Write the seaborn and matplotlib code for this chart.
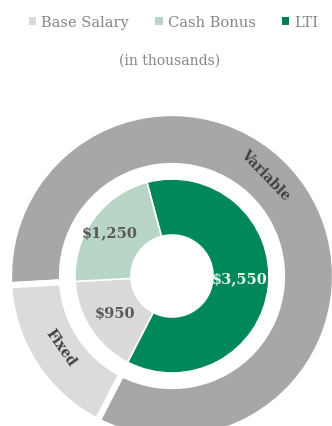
import matplotlib
matplotlib.use("Agg")
import matplotlib.pyplot as plt
import seaborn as sns
from matplotlib.patches import Patch

sns.set_theme(style="white")
plt.rcParams['font.family'] = ['DejaVu Serif']

# Data
inner_labels = ["LTI", "Base Salary", "Cash Bonus"]
inner_values = [3550, 950, 1250]
inner_text = ["$3,550", "$950", "$1,250"]
outer_labels = ["Variable", "Fixed"]
outer_values = [4800, 950]
legend_order = ["Base Salary", "Cash Bonus", "LTI"]

inner_colors = {"LTI": "#00875a", "Base Salary": "#dadada", "Cash Bonus": "#b7d6c6"}
outer_colors = {"Variable": "#a7a7a7", "Fixed": "#dbdbdb"}

W, H = 332, 427
fig = plt.figure(figsize=(W / 100, H / 100), dpi=100)
ax = fig.add_axes([0, 0, 1, 1])
cx, cy = 172, 150  # centre in pixel coords (from bottom)

R_out, w_out = 163, 53
R_in, w_in = 97, 56

start_in = 105
total = sum(inner_values)
start_out = start_in + 360 * inner_values[2] / total

ax.pie(outer_values, radius=R_out, center=(cx, cy), startangle=start_out,
       counterclock=False,
       colors=[outer_colors[l] for l in outer_labels],
       explode=[0, 0.03],
       wedgeprops=dict(width=w_out, edgecolor="white", linewidth=4.5))

ax.pie(inner_values, radius=R_in, center=(cx, cy), startangle=start_in,
       counterclock=False,
       colors=[inner_colors[l] for l in inner_labels],
       wedgeprops=dict(width=w_in, edgecolor="white", linewidth=1.2))

ax.set_xlim(0, W)
ax.set_ylim(0, H)
ax.set_aspect("equal", adjustable="box")
ax.axis("off")

# value labels
pos = {"$3,550": (240, 148), "$950": (115, 113), "$1,250": (110, 194)}
txtcol = {"$3,550": "#e6f4ec", "$950": "#595959", "$1,250": "#595959"}
for t in inner_text:
    ax.text(*pos[t], t, ha="center", va="center", fontsize=10.5,
            fontweight="bold", color=txtcol[t])

ax.text(265, 252, "Variable", rotation=-46, ha="center", va="center",
        fontsize=10, fontweight="bold", color="#404040")
ax.text(61, 79, "Fixed", rotation=-55, ha="center", va="center",
        fontsize=10, fontweight="bold", color="#404040")

handles = [Patch(facecolor=c, edgecolor="none")
           for c in ["#d9d9d9", "#b7d6c6", "#0a7a55"]]
leg = fig.legend(handles, legend_order, loc="center", bbox_to_anchor=(0.523, 1 - 23 / H),
                 ncol=3, frameon=False, fontsize=10.5, handlelength=0.5,
                 handleheight=0.5, handletextpad=0.35, columnspacing=1.8)
for t in leg.get_texts():
    t.set_color("#868686")

fig.text(170 / W, 1 - 61 / H, "(in thousands)", ha="center", va="center",
         fontsize=10, color="#868686")

fig.savefig("out.png", dpi=100)
